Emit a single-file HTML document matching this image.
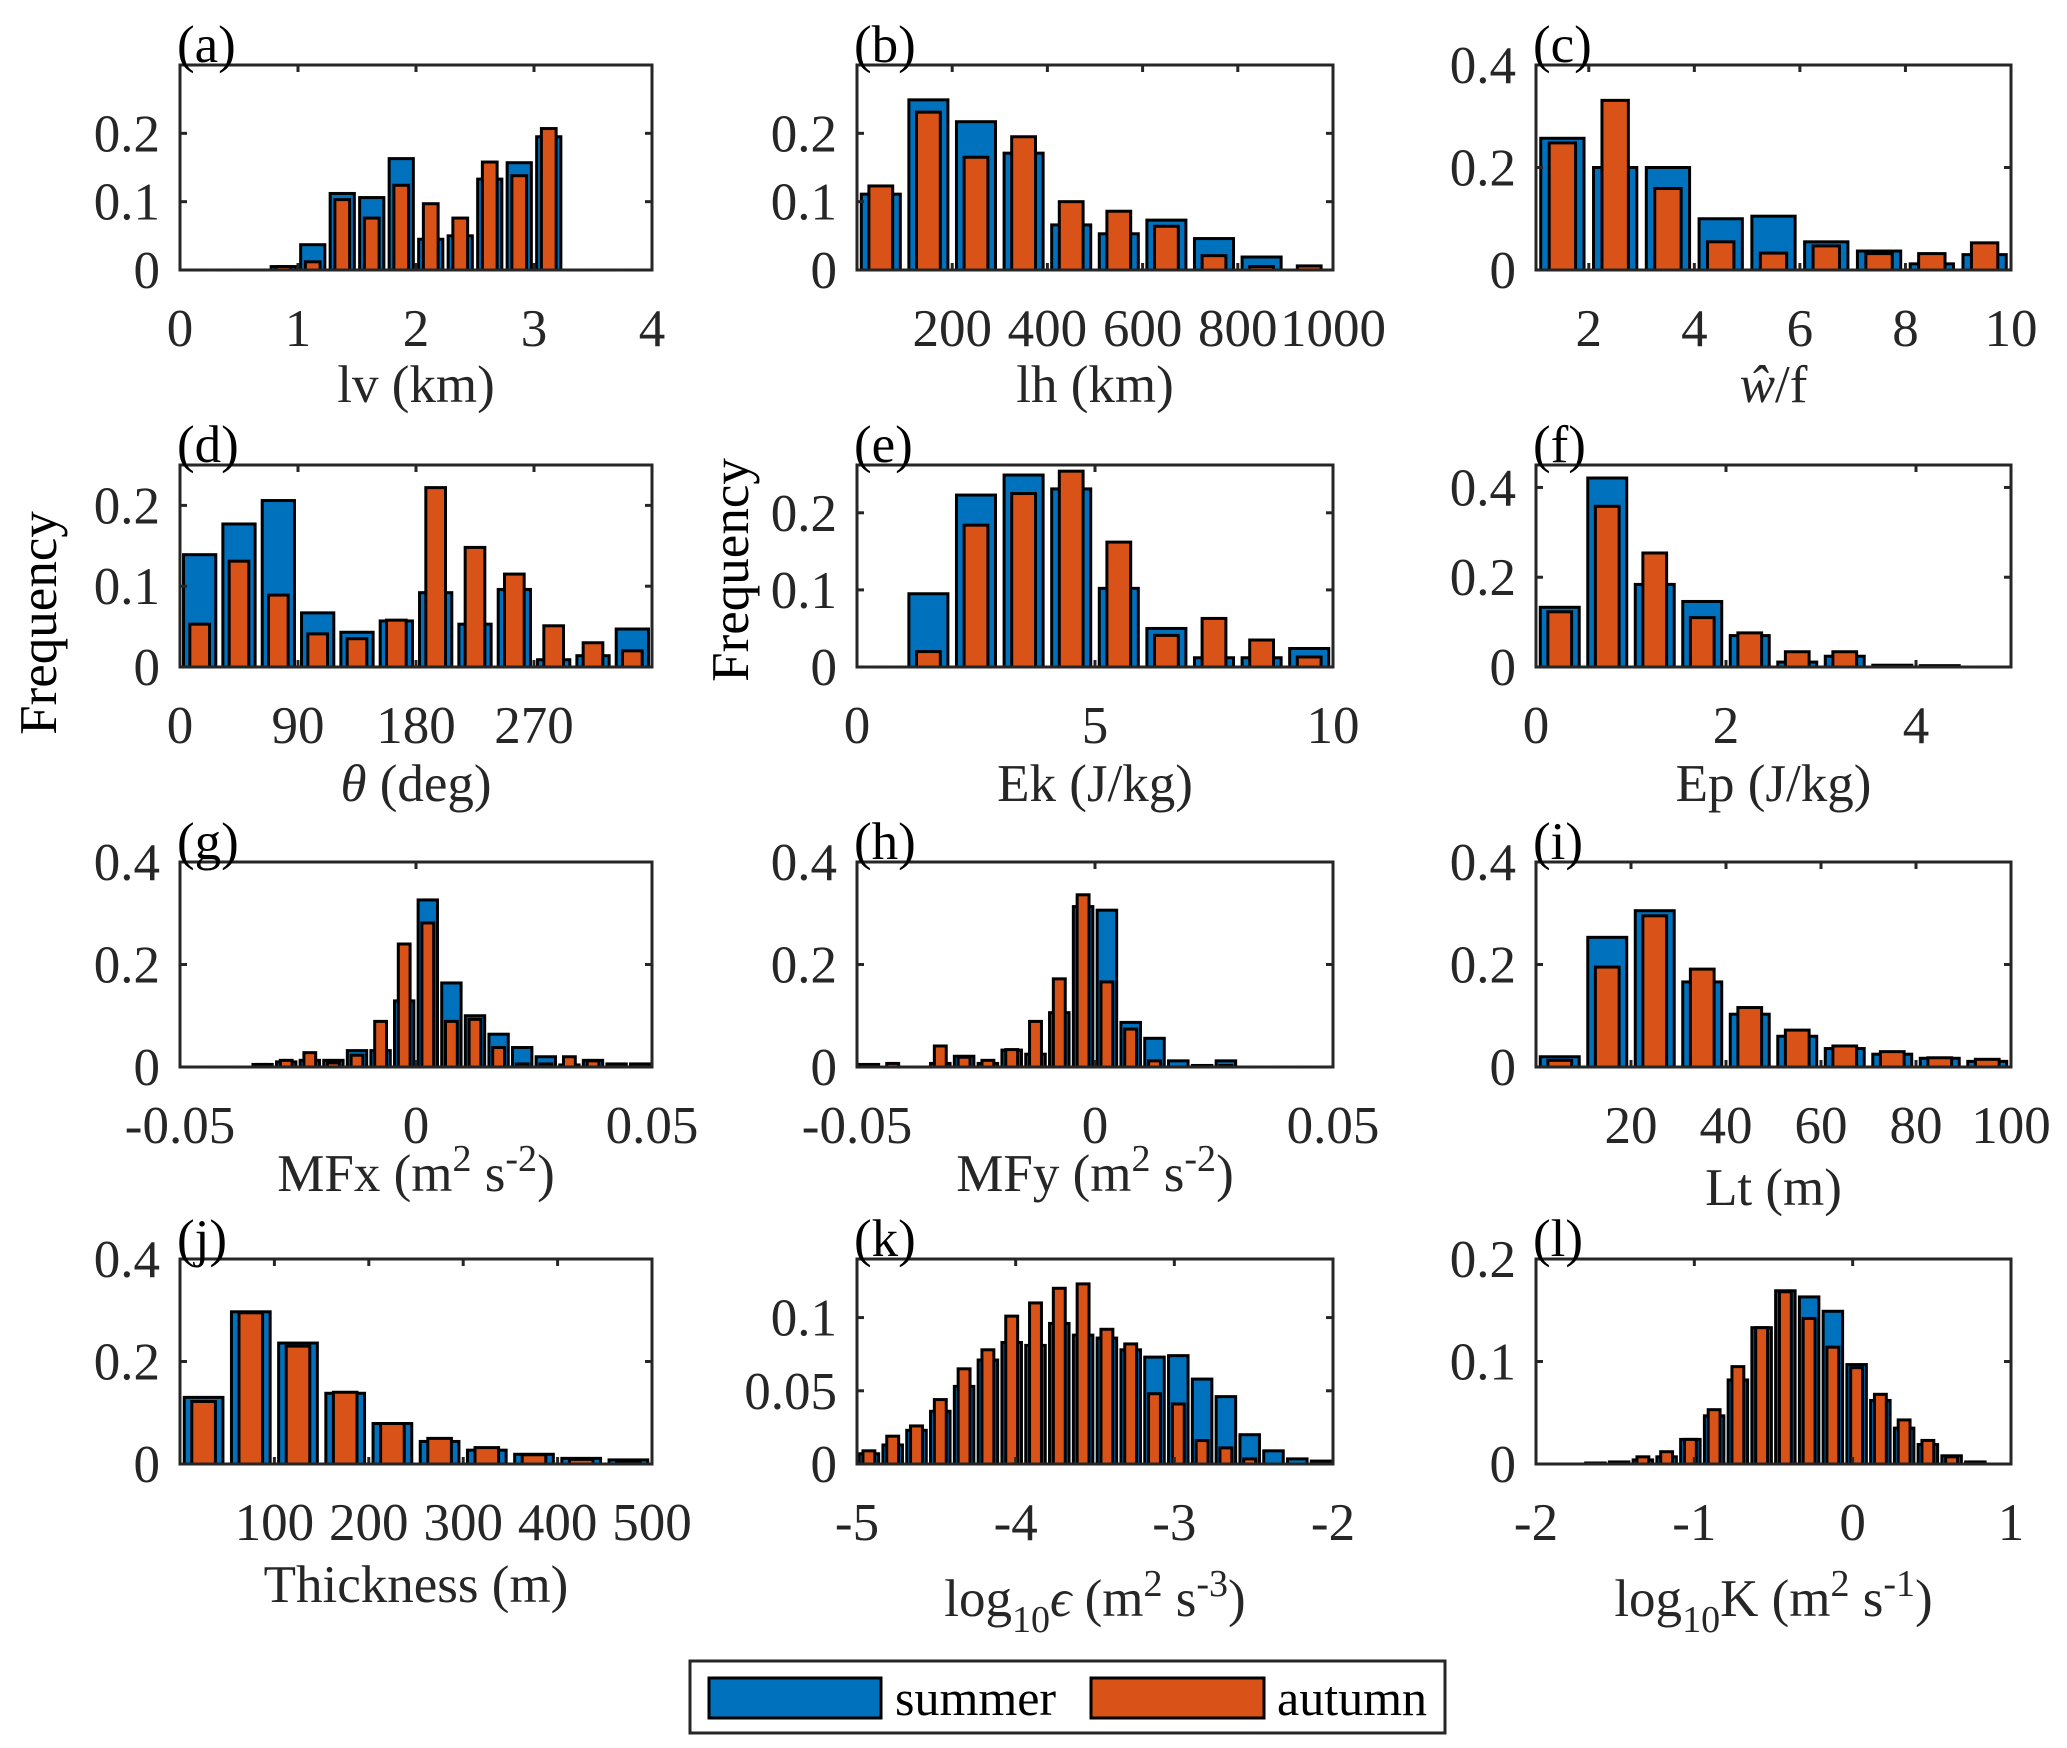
<!DOCTYPE html>
<html><head><meta charset="utf-8">
<style>
html,body{margin:0;padding:0;background:#fff;}
svg{display:block;font-family:"Liberation Serif",serif;}
</style></head>
<body>
<svg id="fig" xmlns="http://www.w3.org/2000/svg" width="2067" height="1748" viewBox="0 0 2067 1748">
<rect x="0" y="0" width="2067" height="1748" fill="#fff"/>
<text x="0" y="0" font-size="53" text-anchor="middle" transform="translate(56,623) rotate(-90)">Frequency</text>
<text x="0" y="0" font-size="53" text-anchor="middle" transform="translate(748,570) rotate(-90)">Frequency</text>
<g>
<rect x="690" y="1661" width="755" height="72" fill="#fff" stroke="#262626" stroke-width="3"/>
<rect x="709" y="1678" width="172" height="40" fill="#0072BD" stroke="#000" stroke-width="3"/>
<text x="895" y="1715" font-size="50">summer</text>
<rect x="1091" y="1678" width="173" height="40" fill="#D95319" stroke="#000" stroke-width="3"/>
<text x="1277" y="1715" font-size="50">autumn</text>
</g>
</svg>
<script>
// ---- data ----
const aCenters=[0.125,0.375,0.625,0.875,1.125,1.375,1.625,1.875,2.125,2.375,2.625,2.875,3.125,3.375,3.625,3.875];
const aSummer=[0,0,0,0.005,0.037,0.112,0.106,0.163,0.045,0.05,0.133,0.157,0.195,0,0,0];
const aAutumn=[0,0,0,0.005,0.012,0.103,0.076,0.124,0.097,0.076,0.158,0.138,0.207,0,0,0];
const aXTicks=[0,1,2,3,4];const aYTicks=[0,0.1,0.2];const aYTickLabels=["0","0.1","0.2"];const aXTickLabels=["0","1","2","3","4"];

const bCenters=[50,150,250,350,450,550,650,750,850,950];
const bSummer=[0.111,0.249,0.217,0.171,0.066,0.053,0.073,0.046,0.019,0];
const bAutumn=[0.123,0.231,0.165,0.195,0.1,0.086,0.064,0.021,0.005,0.006];
const bXTicks=[200,400,600,800,1000];const bXTickLabels=["200","400","600","800","1000"];const bYTicks=[0,0.1,0.2];const bYTickLabels=["0","0.1","0.2"];

const cCenters=[1.5,2.5,3.5,4.5,5.5,6.5,7.5,8.5,9.5];
const cSummer=[0.257,0.2,0.2,0.1,0.105,0.055,0.037,0.012,0.03];
const cAutumn=[0.248,0.331,0.159,0.055,0.033,0.047,0.032,0.032,0.053];
const cXTicks=[2,4,6,8,10];const cXTickLabels=["2","4","6","8","10"];const cYTicks=[0,0.2,0.4];const cYTickLabels=["0","0.2","0.4"];

const dCenters=[15,45,75,105,135,165,195,225,255,285,315,345];
const dSummer=[0.139,0.177,0.206,0.067,0.043,0.057,0.092,0.053,0.096,0.009,0.014,0.047];
const dAutumn=[0.053,0.131,0.089,0.041,0.035,0.058,0.222,0.148,0.115,0.051,0.03,0.02];
const dXTicks=[0,90,180,270];const dXTickLabels=["0","90","180","270"];const dYTicks=[0,0.1,0.2];const dYTickLabels=["0","0.1","0.2"];

const eCenters=[0.5,1.5,2.5,3.5,4.5,5.5,6.5,7.5,8.5,9.5];
const eSummer=[0,0.095,0.223,0.249,0.231,0.102,0.05,0.012,0.012,0.024];
const eAutumn=[0,0.02,0.184,0.225,0.254,0.162,0.041,0.063,0.035,0.013];
const eXTicks=[0,5,10];const eXTickLabels=["0","5","10"];const eYTicks=[0,0.1,0.2];const eYTickLabels=["0","0.1","0.2"];

const fCenters=[0.25,0.75,1.25,1.75,2.25,2.75,3.25,3.75,4.25,4.75];
const fSummer=[0.133,0.421,0.184,0.146,0.07,0.011,0.024,0.004,0.003,0];
const fAutumn=[0.123,0.358,0.254,0.11,0.076,0.034,0.034,0.002,0.001,0];
const fXTicks=[0,2,4];const fXTickLabels=["0","2","4"];const fYTicks=[0,0.2,0.4];const fYTickLabels=["0","0.2","0.4"];

const gCenters=[-0.0475,-0.0425,-0.0375,-0.0325,-0.0275,-0.0225,-0.0175,-0.0125,-0.0075,-0.0025,0.0025,0.0075,0.0125,0.0175,0.0225,0.0275,0.0325,0.0375,0.0425,0.0475];
const gSummer=[0,0,0,0.005,0.01,0.013,0.013,0.032,0.032,0.129,0.326,0.164,0.1,0.064,0.038,0.02,0.004,0.013,0.006,0.006];
const gAutumn=[0,0,0,0.005,0.013,0.028,0.008,0.023,0.089,0.24,0.281,0.089,0.093,0.038,0.006,0.006,0.02,0.012,0,0];
const gXTicks=[-0.05,0,0.05];const gXTickLabels=["-0.05","0","0.05"];const gYTicks=[0,0.2,0.4];const gYTickLabels=["0","0.2","0.4"];

const hCenters=[-0.0475,-0.0425,-0.0375,-0.0325,-0.0275,-0.0225,-0.0175,-0.0125,-0.0075,-0.0025,0.0025,0.0075,0.0125,0.0175,0.0225,0.0275,0.0325,0.0375,0.0425,0.0475];
const hSummer=[0.005,0,0,0.007,0.021,0.007,0.033,0.025,0.106,0.313,0.306,0.087,0.056,0.012,0.003,0.012,0,0,0,0];
const hAutumn=[0.003,0.007,0,0.041,0.019,0.013,0.034,0.089,0.172,0.336,0.166,0.074,0.012,0,0,0.003,0,0,0,0];
const hXTicks=[-0.05,0,0.05];const hXTickLabels=["-0.05","0","0.05"];const hYTicks=[0,0.2,0.4];const hYTickLabels=["0","0.2","0.4"];

const iCenters=[5,15,25,35,45,55,65,75,85,95];
const iSummer=[0.02,0.253,0.305,0.166,0.103,0.06,0.036,0.025,0.017,0.011];
const iAutumn=[0.013,0.195,0.295,0.191,0.116,0.072,0.041,0.03,0.018,0.015];
const iXTicks=[20,40,60,80,100];const iXTickLabels=["20","40","60","80","100"];const iYTicks=[0,0.2,0.4];const iYTickLabels=["0","0.2","0.4"];

const jCenters=[25,75,125,175,225,275,325,375,425,475];
const jSummer=[0.13,0.297,0.236,0.138,0.079,0.044,0.027,0.019,0.011,0.008];
const jAutumn=[0.122,0.295,0.23,0.14,0.079,0.05,0.032,0.018,0.009,0.005];
const jXTicks=[100,200,300,400,500];const jXTickLabels=["100","200","300","400","500"];const jYTicks=[0,0.2,0.4];const jYTickLabels=["0","0.2","0.4"];

const kCenters=[-4.925,-4.775,-4.625,-4.475,-4.325,-4.175,-4.025,-3.875,-3.725,-3.575,-3.425,-3.275,-3.125,-2.975,-2.825,-2.675,-2.525,-2.375,-2.225,-2.075];
const kSummer=[0.007,0.013,0.023,0.036,0.053,0.071,0.083,0.081,0.096,0.088,0.086,0.078,0.073,0.074,0.058,0.046,0.02,0.009,0.0035,0.002];
const kAutumn=[0.009,0.019,0.026,0.044,0.065,0.078,0.101,0.11,0.12,0.123,0.092,0.082,0.048,0.041,0.016,0.011,0.0035,0,0,0];
const kXTicks=[-5,-4,-3,-2];const kXTickLabels=["-5","-4","-3","-2"];const kYTicks=[0,0.05,0.1];const kYTickLabels=["0","0.05","0.1"];

const lCenters=[-1.925,-1.775,-1.625,-1.475,-1.325,-1.175,-1.025,-0.875,-0.725,-0.575,-0.425,-0.275,-0.125,0.025,0.175,0.325,0.475,0.625,0.775,0.925];
const lSummer=[0,0,0.001,0.002,0.004,0.007,0.024,0.047,0.082,0.133,0.169,0.163,0.149,0.097,0.062,0.035,0.019,0.008,0.002,0];
const lAutumn=[0,0,0,0.001,0.007,0.012,0.024,0.053,0.095,0.133,0.168,0.142,0.114,0.094,0.068,0.043,0.023,0.007,0.002,0];
const lXTicks=[-2,-1,0,1];const lXTickLabels=["-2","-1","0","1"];const lYTicks=[0,0.1,0.2];const lYTickLabels=["0","0.1","0.2"];

// ---- layout ----
const COLS=[[180,652],[857,1333],[1536,2011]];
const ROWS=[[65,270],[465,667],[862,1067],[1259,1464]];
const panels=[
 {id:"a",r:0,c:0,cen:aCenters,s:aSummer,au:aAutumn,bw:0.25,x0:0,x1:4,y1:0.3,xt:aXTicks,xl:aXTickLabels,yt:aYTicks,yl:aYTickLabels,title:[["lv  (km)"]],to:132},
 {id:"b",r:0,c:1,cen:bCenters,s:bSummer,au:bAutumn,bw:100,x0:0,x1:1000,y1:0.3,xt:bXTicks,xl:bXTickLabels,yt:bYTicks,yl:bYTickLabels,title:[["lh (km)"]],to:132},
 {id:"c",r:0,c:2,cen:cCenters,s:cSummer,au:cAutumn,bw:1,x0:1,x1:10,y1:0.4,xt:cXTicks,xl:cXTickLabels,yt:cYTicks,yl:cYTickLabels,title:[["ŵ","italic"],["/f"]],to:132},
 {id:"d",r:1,c:0,cen:dCenters,s:dSummer,au:dAutumn,bw:30,x0:0,x1:360,y1:0.25,xt:dXTicks,xl:dXTickLabels,yt:dYTicks,yl:dYTickLabels,title:[["θ","italic"],[" (deg)"]],to:134},
 {id:"e",r:1,c:1,cen:eCenters,s:eSummer,au:eAutumn,bw:1,x0:0,x1:10,y1:0.262,xt:eXTicks,xl:eXTickLabels,yt:eYTicks,yl:eYTickLabels,title:[["Ek (J/kg)"]],to:134},
 {id:"f",r:1,c:2,cen:fCenters,s:fSummer,au:fAutumn,bw:0.5,x0:0,x1:5,y1:0.45,xt:fXTicks,xl:fXTickLabels,yt:fYTicks,yl:fYTickLabels,title:[["Ep (J/kg)"]],to:134},
 {id:"g",r:2,c:0,cen:gCenters,s:gSummer,au:gAutumn,bw:0.005,x0:-0.05,x1:0.05,y1:0.4,xt:gXTicks,xl:gXTickLabels,yt:gYTicks,yl:gYTickLabels,title:[["MFx (m"],["2","sup"],[" s"],["-2","sup"],[")"]],to:124},
 {id:"h",r:2,c:1,cen:hCenters,s:hSummer,au:hAutumn,bw:0.005,x0:-0.05,x1:0.05,y1:0.4,xt:hXTicks,xl:hXTickLabels,yt:hYTicks,yl:hYTickLabels,title:[["MFy (m"],["2","sup"],[" s"],["-2","sup"],[")"]],to:124},
 {id:"i",r:2,c:2,cen:iCenters,s:iSummer,au:iAutumn,bw:10,x0:0,x1:100,y1:0.4,xt:iXTicks,xl:iXTickLabels,yt:iYTicks,yl:iYTickLabels,title:[["Lt (m)"]],to:138},
 {id:"j",r:3,c:0,cen:jCenters,s:jSummer,au:jAutumn,bw:50,x0:0,x1:500,y1:0.4,xt:jXTicks,xl:jXTickLabels,yt:jYTicks,yl:jYTickLabels,title:[["Thickness (m)"]],to:138},
 {id:"k",r:3,c:1,cen:kCenters,s:kSummer,au:kAutumn,bw:0.15,x0:-5,x1:-2,y1:0.14,xt:kXTicks,xl:kXTickLabels,yt:kYTicks,yl:kYTickLabels,title:[["log"],["10","sub"],["ϵ","italic"],[" (m"],["2","sup"],[" s"],["-3","sup"],[")"]],to:152},
 {id:"l",r:3,c:2,cen:lCenters,s:lSummer,au:lAutumn,bw:0.15,x0:-2,x1:1,y1:0.2,xt:lXTicks,xl:lXTickLabels,yt:lYTicks,yl:lYTickLabels,title:[["log"],["10","sub"],["K (m"],["2","sup"],[" s"],["-1","sup"],[")"]],to:152}
];
const NS="http://www.w3.org/2000/svg";
const svg=document.getElementById("fig");
function mk(tag,attrs,parent){const e=document.createElementNS(NS,tag);for(const k in attrs)e.setAttribute(k,attrs[k]);(parent||svg).appendChild(e);return e;}
panels.forEach(p=>{
 const L=COLS[p.c][0],R=COLS[p.c][1],T=ROWS[p.r][0],B=ROWS[p.r][1];
 const X=v=>L+(v-p.x0)/(p.x1-p.x0)*(R-L);
 const Y=v=>B-v/p.y1*(B-T);
 const g=mk("g",{});
 
 
 const addBar=(v,c,wf,fill,nm)=>{
  const x0=X(c-p.bw*wf/2),x1=X(c+p.bw*wf/2);
  const yv=Y(v);
  const r=mk("rect",{x:x0,y:yv,width:x1-x0,height:Math.max(B-yv,0.01),fill:fill,stroke:"#000","stroke-width":3},g);
  
  
 };
 p.cen.forEach((c,i)=>addBar(p.s[i],c,0.82,"#0072BD","bar-summer-"+p.id+"-"+i));
 p.cen.forEach((c,i)=>addBar(p.au[i],c,0.5,"#D95319","bar-autumn-"+p.id+"-"+i));
 const box=mk("rect",{x:L,y:T,width:R-L,height:B-T,fill:"none",stroke:"#262626","stroke-width":3},g);
 
 
 p.xt.forEach((t,i)=>{
  const x=X(t);
  mk("line",{x1:x,y1:B,x2:x,y2:B-7,stroke:"#262626","stroke-width":3},g);
  mk("line",{x1:x,y1:T,x2:x,y2:T+7,stroke:"#262626","stroke-width":3},g);
  const tx=mk("text",{x:x,y:B+76,"font-size":53,"text-anchor":"middle",fill:"#262626"},g);
  tx.textContent=p.xl[i];
  
  
 });
 p.yt.forEach((t,i)=>{
  const y=Y(t);
  mk("line",{x1:L,y1:y,x2:L+7,y2:y,stroke:"#262626","stroke-width":3},g);
  mk("line",{x1:R,y1:y,x2:R-7,y2:y,stroke:"#262626","stroke-width":3},g);
  const tx=mk("text",{x:L-20,y:y+18,"font-size":53,"text-anchor":"end",fill:"#262626"},g);
  tx.textContent=p.yl[i];
  
  
 });
 const lab=mk("text",{x:L-3,y:T-3,"font-size":53,fill:"#000"},g);
 lab.textContent="("+p.id+")";
 
 
 const tt=mk("text",{x:(L+R)/2,y:B+p.to,"font-size":53,"text-anchor":"middle",fill:"#262626"},g);
 
 
 let shifted=0;
 p.title.forEach(part=>{
  const ts=mk("tspan",{},tt);
  ts.textContent=part[0];
  let target=0;
  if(part[1]==="italic")ts.setAttribute("font-style","italic");
  if(part[1]==="sup"){target=-20;ts.setAttribute("font-size","38");}
  if(part[1]==="sub"){target=16;ts.setAttribute("font-size","38");}
  if(target!==shifted){ts.setAttribute("dy",target-shifted);shifted=target;}
 });
 if(shifted!==0){const ts=mk("tspan",{dy:-shifted},tt);ts.textContent="";}
});
</script>
</body></html>
